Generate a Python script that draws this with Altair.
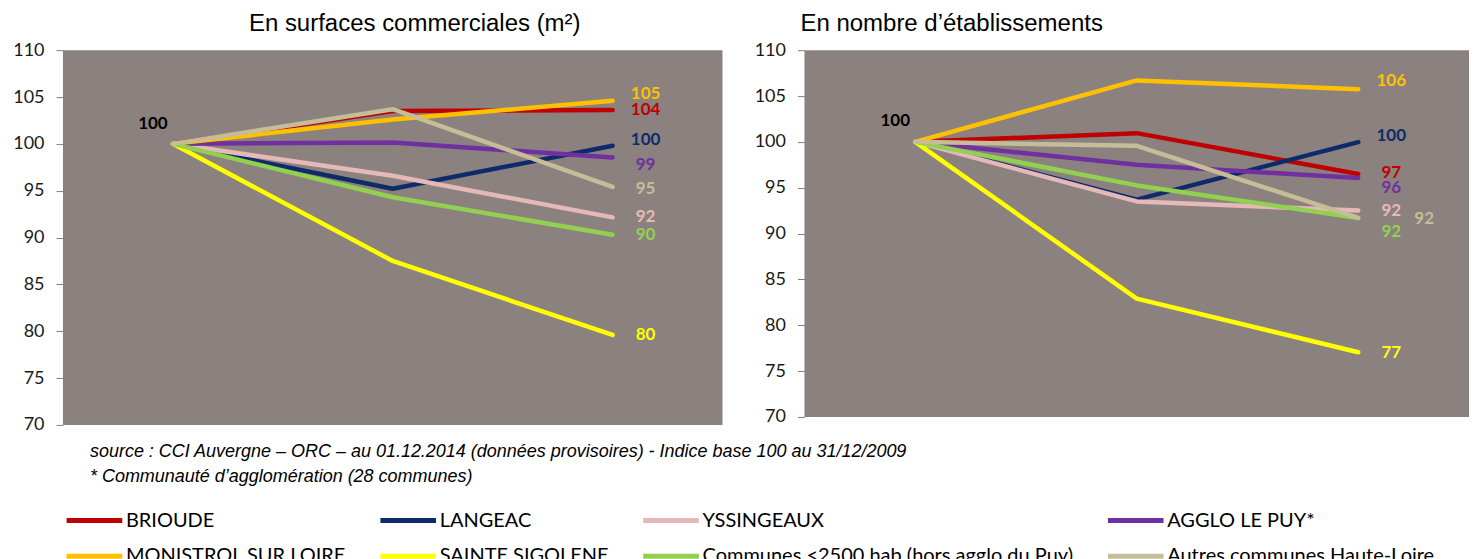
import altair as alt
import pandas as pd

# ---------------- data ----------------
periods = ["31/12/2009", "2012", "01/12/2014"]
series = [
    "BRIOUDE",
    "LANGEAC",
    "YSSINGEAUX",
    "AGGLO LE PUY*",
    "MONISTROL SUR LOIRE",
    "SAINTE SIGOLENE",
    "Communes <2500 hab (hors agglo du Puy)",
    "Autres communes Haute-Loire",
]
colors = ["#C00000", "#0E2A6B", "#E6B9B8", "#7030A0", "#FFC000", "#FFFF00", "#92D050", "#C4BD97"]

# En surfaces commerciales (m²)
surf_start = [100, 100, 100, 100, 100, 100, 100, 100]
surf_mid = [103.5, 95.2, 96.6, 100.15, 102.6, 87.5, 94.3, 103.7]
surf_end = [103.6, 99.8, 92.15, 98.55, 104.6, 79.6, 90.3, 95.4]
surf_labels = ["104", "100", "92", "99", "105", "80", "90", "95"]
surf_label_at = [103.6, 100.4, 92.2, 97.7, 105.3, 79.6, 90.3, 95.2]

# En nombre d'établissements
etab_start = [100, 100, 100, 100, 100, 100, 100, 100]
etab_mid = [100.95, 93.7, 93.5, 97.5, 106.7, 82.9, 95.25, 99.57]
etab_end = [96.5, 99.97, 92.5, 96.05, 105.75, 77.05, 91.7, 91.7]
etab_labels = ["97", "100", "92", "96", "106", "77", "92", "92"]
etab_label_at = [96.6, 100.6, 92.45, 95.0, 106.6, 77.0, 90.2, 91.6]
etab_label_far = [False, False, False, False, False, False, False, True]

base_label = "100"
surf_base_label_at = 102.1
etab_base_label_at = 102.3

y_ticks = [70, 75, 80, 85, 90, 95, 100, 105, 110]

source_lines = [
    "source : CCI Auvergne \u2013 ORC \u2013 au 01.12.2014 (données provisoires) - Indice base 100 au 31/12/2009",
    "* Communauté d\u2019agglomération (28 communes)",
]

titles = ["En surfaces commerciales (m²)", "En nombre d\u2019établissements"]

# ---------------- styles ----------------
BG = "#8B827F"
NUM_FONT = "Lato"
TITLE_FONT = "Liberation Sans"


def long_table(start, mid, end):
    rows = []
    for i, s in enumerate(series):
        for p, v in zip(periods, [start[i], mid[i], end[i]]):
            rows.append({"series": s, "period": p, "value": v, "order": i})
    return pd.DataFrame(rows)


def label_table(labels, label_at, far=None):
    rows = []
    for i, s in enumerate(series):
        rows.append({
            "series": s, "period": periods[-1], "value": label_at[i],
            "text": labels[i], "far": bool(far[i]) if far else False,
        })
    return pd.DataFrame(rows)


color_scale = alt.Scale(domain=series, range=colors)
x_enc = alt.X("period:N", sort=periods, scale=alt.Scale(type="point", padding=0.5), axis=None)
y_scale = alt.Scale(domain=[70, 110], nice=False, zero=False)
y_axis = alt.Axis(values=y_ticks, grid=False, domain=False, ticks=True, tickSize=7,
                  tickColor="#7F7F7F", labelPadding=12, title=None,
                  labelFont=NUM_FONT, labelFontSize=18, labelColor="#1A1A1A")

# long flat stroke symbol whose layout slot is smaller than its drawn length
legend = alt.Legend(title=None, orient="none", legendX=15, legendY=454,
                    columns=4, direction="horizontal",
                    symbolType="M-2,0H2", symbolStrokeWidth=5, symbolFillColor="transparent",
                    symbolSize=775, columnPadding=23, rowPadding=9,
                    labelFont=NUM_FONT, labelFontSize=20,
                    labelColor="#000000", labelOffset=15,
                    padding=0, labelLimit=700)


def panel(start, mid, end, labels, label_at, far, base_at, width, height, title_params):
    df = long_table(start, mid, end)
    lab = label_table(labels, label_at, far)
    lines = alt.Chart(df).mark_line(strokeWidth=4.5, strokeCap="round", strokeJoin="round").encode(
        x=x_enc,
        y=alt.Y("value:Q", scale=y_scale, axis=y_axis),
        color=alt.Color("series:N", scale=color_scale, sort=series, legend=legend),
        order=alt.Order("order:Q"),
    )
    near = alt.Chart(lab).transform_filter("!datum.far").mark_text(
        font=NUM_FONT, fontSize=17, fontWeight="bold", dx=33, align="center", baseline="middle"
    ).encode(
        x=x_enc, y=alt.Y("value:Q", scale=y_scale),
        text="text:N",
        color=alt.Color("series:N", scale=color_scale, legend=None),
    )
    farl = alt.Chart(lab).transform_filter("datum.far").mark_text(
        font=NUM_FONT, fontSize=17, fontWeight="bold", dx=66, align="center", baseline="middle"
    ).encode(
        x=x_enc, y=alt.Y("value:Q", scale=y_scale),
        text="text:N",
        color=alt.Color("series:N", scale=color_scale, legend=None),
    )
    base = alt.Chart(pd.DataFrame({"period": [periods[0]], "value": [base_at], "text": [base_label]})).mark_text(
        font=NUM_FONT, fontSize=17, fontWeight="bold", dx=-20, align="center", baseline="middle",
        color="#000000"
    ).encode(x=x_enc, y=alt.Y("value:Q", scale=y_scale), text="text:N")
    return alt.layer(lines, near, farl, base).properties(
        width=width, height=height, title=title_params,
        view=alt.ViewBackground(fill=BG, stroke=None),
    )


left = panel(surf_start, surf_mid, surf_end, surf_labels, surf_label_at, None, surf_base_label_at,
             660, 375,
             alt.TitleParams(titles[0], anchor="middle", dx=22, font=TITLE_FONT, fontSize=24,
                             fontWeight="normal", color="#000000", offset=5))
right = panel(etab_start, etab_mid, etab_end, etab_labels, etab_label_at, etab_label_far, etab_base_label_at,
              665, 367,
              alt.TitleParams(titles[1], anchor="start", frame="group", dx=-4, font=TITLE_FONT,
                              fontSize=24, fontWeight="normal", color="#000000", offset=5))

footer = alt.Chart(pd.DataFrame({"i": [0, 1], "text": source_lines})).mark_text(
    align="left", baseline="middle", font=TITLE_FONT, fontStyle="italic", fontSize=18, color="#000000"
).encode(
    x=alt.value(27),
    y=alt.Y("i:O", axis=None, scale=alt.Scale(type="point", padding=0.5)),
    text="text:N",
).properties(width=1, height=50, view=alt.ViewBackground(fill=None, stroke=None))

chart = alt.vconcat(
    alt.hconcat(left, right, spacing=31),
    footer,
    spacing=6,
).properties(
    padding={"left": 4, "top": 4, "right": 0, "bottom": 0}
).configure_view(stroke=None)

chart.save("out.html", embed_options={"renderer": "svg", "actions": False})
